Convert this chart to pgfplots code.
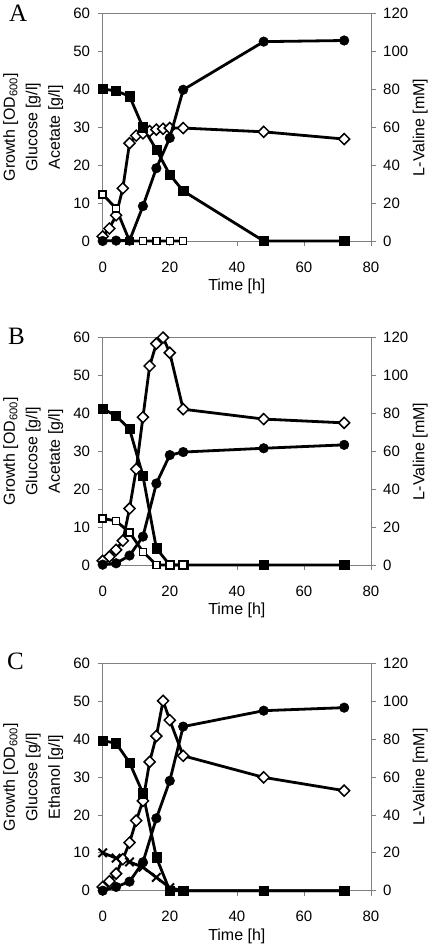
\documentclass[border=0pt]{standalone}
\usepackage{pgfplots}
\pgfplotsset{compat=1.18}
\usepackage{fontspec}
\setmainfont{Liberation Sans}
\newfontfamily\letterfont{Liberation Serif}

\pgfplotsset{
  base/.style={
    width=268.3pt, height=227.4pt, scale only axis,
    xmin=0, xmax=80, clip=false,
    axis line style={draw=gray, line width=0.7pt},
    tick style={draw=gray, line width=0.7pt},
    tick align=outside, major tick length=5pt,
    /pgf/number format/assume math mode=true,
    ticklabel style={font=\fontsize{15}{16}\selectfont, text=black},
  },
  leftax/.style={
    base, ymin=0, ymax=60,
    xtick={0,20,...,80}, ytick={0,10,...,60},
    xtick pos=bottom, ytick pos=left,
    xticklabel style={anchor=north, inner sep=0pt, yshift=-15.5pt},
    yticklabel style={anchor=east, inner sep=0pt, xshift=-7.5pt},
    xlabel={Time [h]},
    xlabel style={at={(axis description cs:0.5,-0.2176)}, anchor=base, inner sep=0pt,
      font=\fontsize{16}{18}\selectfont},
    ylabel style={at={(axis description cs:-0.1465,0.5)}, anchor=south, inner sep=0pt,
      align=center, font=\fontsize{16}{22.5}\selectfont},
  },
  rightax/.style={
    base, ymin=0, ymax=120,
    ytick={0,20,...,120},
    axis y line*=right, axis x line=none,
    yticklabel style={anchor=west, inner sep=0pt, xshift=7pt},
    ylabel={L-Valine [mM]},
    ylabel style={at={(axis description cs:1.2125,0.5)}, anchor=south, inner sep=0pt,
      font=\fontsize{16}{18}\selectfont},
  },
  growth/.style={black, line width=2.8pt, mark=square*, mark size=3.9pt,
    mark options={rotate=45, fill=white, draw=black, line width=1.5pt}},
  glucose/.style={black, line width=2.8pt, mark=square*, mark size=4.6pt,
    mark options={fill=black, line width=0.5pt}},
  acetate/.style={black, line width=2.8pt, mark=square*, mark size=3.5pt,
    mark options={fill=white, draw=black, line width=1.4pt}},
  ethanol/.style={black, line width=2.8pt, mark=x, mark size=6pt,
    mark options={line width=2pt}},
  valine/.style={black, line width=2.8pt, mark=*, mark size=4.8pt,
    mark options={fill=black, line width=0.5pt}},
}

\begin{document}
\begin{tikzpicture}[x=1pt,y=1pt]
\useasboundingbox (0,0) rectangle (428,945);

% ---------------- Panel A ----------------
\begin{axis}[leftax, at={(102.7pt,704pt)}, anchor=south west,
  ylabel={Growth [OD\textsubscript{600}]\\Glucose [g/l]\\Acetate [g/l]}]
\addplot[growth] coordinates {(0,1.2)(2,3.3)(4,6.8)(6,13.9)(8,25.8)(10,27.8)(12,28.4)(14,29.0)(16,29.4)(18,29.6)(20,29.8)(24,29.8)(48,28.8)(72,26.9)};
\addplot[glucose] coordinates {(0,40.1)(4,39.6)(8,38.2)(12,30.0)(16,24.1)(20,17.5)(24,13.2)(48,0)(72,0)};
\addplot[acetate] coordinates {(0,12.3)(4,8.6)(8,0)(12,0)(16,0)(20,0)(24,0)};
\end{axis}
\begin{axis}[rightax, at={(102.7pt,704pt)}, anchor=south west]
\addplot[valine] coordinates {(0,0)(4,0.2)(8,0.2)(12,18.4)(16,38.4)(20,54.4)(24,79.8)(48,105.2)(72,105.8)};
\end{axis}

% ---------------- Panel B ----------------
\begin{axis}[leftax, at={(102.7pt,380pt)}, anchor=south west,
  ylabel={Growth [OD\textsubscript{600}]\\Glucose [g/l]\\Acetate [g/l]}]
\addplot[growth] coordinates {(0,1.1)(2,2.2)(4,4.0)(6,6.4)(8,14.9)(10,25.3)(12,39.0)(14,52.5)(16,58.4)(18,60.0)(20,56.0)(24,41.1)(48,38.5)(72,37.5)};
\addplot[glucose] coordinates {(0,41.3)(4,39.3)(8,35.9)(12,23.5)(16,4.4)(20,0)(24,0)(48,0)(72,0)};
\addplot[acetate] coordinates {(0,12.3)(4,11.6)(8,8.6)(12,3.5)(16,0)(20,0)(24,0)};
\end{axis}
\begin{axis}[rightax, at={(102.7pt,380pt)}, anchor=south west]
\addplot[valine] coordinates {(0,0.2)(4,0.9)(8,5.0)(12,15.0)(16,43.0)(20,58.0)(24,59.6)(48,61.6)(72,63.4)};
\end{axis}

% ---------------- Panel C ----------------
\begin{axis}[leftax, at={(102.7pt,54.3pt)}, anchor=south west,
  ylabel={Growth [OD\textsubscript{600}]\\Glucose [g/l]\\Ethanol [g/l]}]
\addplot[growth] coordinates {(0,1.0)(2,2.5)(4,4.5)(6,8.3)(8,12.7)(10,18.5)(12,23.7)(14,34.0)(16,40.8)(18,50.1)(20,45.0)(24,35.6)(48,29.9)(72,26.4)};
\addplot[glucose] coordinates {(0,39.6)(4,38.9)(8,33.8)(12,25.7)(16,8.8)(20,0)(24,0)(48,0)(72,0)};
\addplot[ethanol] coordinates {(0,10.0)(4,8.6)(8,7.6)(12,6.2)(16,3.5)(20,0.8)(24,0)(48,0)(72,0)};
\end{axis}
\begin{axis}[rightax, at={(102.7pt,54.3pt)}, anchor=south west]
\addplot[valine] coordinates {(0,0)(4,2.0)(8,4.8)(12,15.0)(16,38.2)(20,58.0)(24,86.6)(48,95.0)(72,96.6)};
\end{axis}

% panel letters
\node[anchor=base west, inner sep=0pt, font=\letterfont\fontsize{25}{25}\selectfont] at (9,923) {A};
\node[anchor=base west, inner sep=0pt, font=\letterfont\fontsize{25}{25}\selectfont] at (8,600) {B};
\node[anchor=base west, inner sep=0pt, font=\letterfont\fontsize{25}{25}\selectfont] at (7,275) {C};
\end{tikzpicture}
\end{document}
